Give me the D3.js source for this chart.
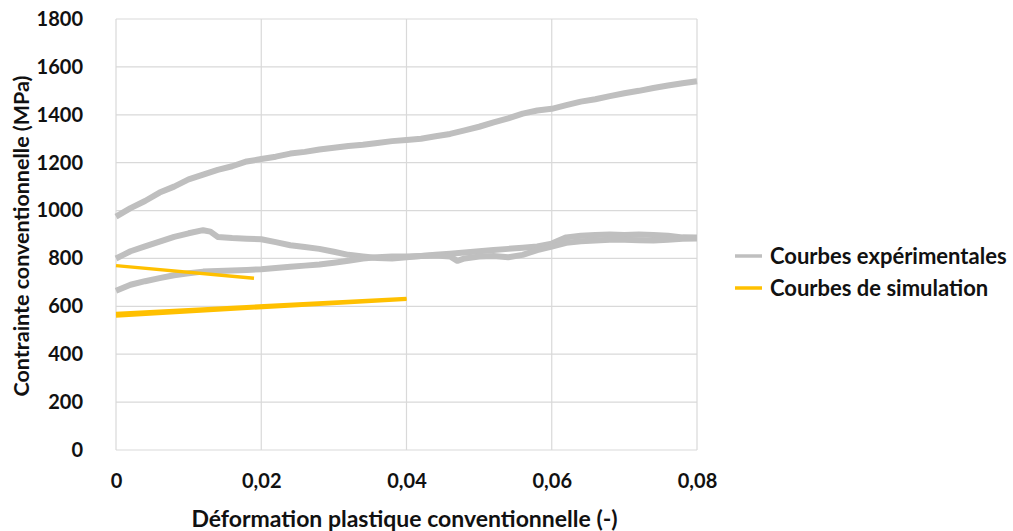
<!DOCTYPE html>
<html>
<head>
<meta charset="utf-8">
<script src="https://cdn.jsdelivr.net/npm/d3@7"></script>
<style>
  body { margin: 0; background: #fff; }
  text { font-family: Lato, "Open Sans", sans-serif; font-weight: 700; fill: #111; }
</style>
</head>
<body>
<div id="chart"></div>
<script>
// tick labels
var xTicks = [0, 0.02, 0.04, 0.06, 0.08];
var yTicks = [0, 200, 400, 600, 800, 1000, 1200, 1400, 1600, 1800];

// experimental curves [strain, stress]
var exp1 = [[0,975],[0.002,1010],[0.004,1040],[0.006,1075],[0.008,1100],[0.010,1130],[0.012,1150],[0.014,1170],
  [0.016,1185],[0.018,1205],[0.020,1215],[0.022,1225],[0.024,1238],[0.026,1245],[0.028,1255],[0.030,1262],
  [0.032,1270],[0.034,1275],[0.036,1282],[0.038,1290],[0.040,1295],[0.042,1300],[0.044,1310],[0.046,1320],
  [0.048,1335],[0.050,1350],[0.052,1368],[0.054,1385],[0.056,1405],[0.058,1418],[0.060,1425],[0.062,1440],
  [0.064,1455],[0.066,1465],[0.068,1478],[0.070,1490],[0.072,1500],[0.074,1512],[0.076,1522],[0.078,1532],[0.080,1540]];
var exp2 = [[0,800],[0.001,815],[0.002,830],[0.004,850],[0.006,870],[0.008,890],[0.010,905],[0.012,918],
  [0.013,912],[0.014,890],[0.016,885],[0.018,882],[0.020,880],[0.022,868],[0.024,855],[0.026,848],[0.028,840],
  [0.030,828],[0.032,815],[0.034,808],[0.036,802],[0.038,800],[0.040,805],[0.042,810],[0.044,815],[0.046,820],
  [0.048,825],[0.050,830],[0.052,835],[0.054,840],[0.056,845],[0.058,850],[0.060,862],[0.062,888],[0.064,895],
  [0.066,898],[0.068,900],[0.070,898],[0.072,900],[0.074,898],[0.076,895],[0.078,888],[0.080,887]];
var exp3 = [[0,665],[0.002,690],[0.004,705],[0.006,718],[0.008,730],[0.010,738],[0.012,745],[0.014,748],
  [0.016,750],[0.018,752],[0.020,755],[0.022,760],[0.024,765],[0.026,770],[0.028,775],[0.030,782],[0.032,790],
  [0.034,800],[0.036,805],[0.038,808],[0.040,808],[0.042,810],[0.044,812],[0.046,808],[0.047,790],[0.048,800],
  [0.050,808],[0.052,810],[0.054,805],[0.056,815],[0.058,835],[0.060,850],[0.062,865],[0.064,872],[0.066,875],
  [0.068,878],[0.070,878],[0.072,876],[0.074,875],[0.076,878],[0.078,882],[0.080,883]];

// simulation curves
var sim1 = [[0,770],[0.019,717]];
var sim2 = [[0,570],[0.04,633]];
var sim3 = [[0,560],[0.04,630]];

var seriesNames = ["Courbes expérimentales", "Courbes de simulation"];
var grey = "#bfbfbf", gold = "#ffc000";

var W = 1013, H = 531;
var margin = {top: 19, left: 116, right: 316, bottom: 81};

var svg = d3.select("#chart").append("svg")
    .attr("width", W).attr("height", H);

var x = d3.scaleLinear().domain([0, 0.08]).range([margin.left, W - margin.right]);
var y = d3.scaleLinear().domain([0, 1800]).range([H - margin.bottom, margin.top]);

// grid
svg.append("g").selectAll("line.h").data(yTicks).enter().append("line")
    .attr("x1", x(0)).attr("x2", x(0.08))
    .attr("y1", function(d){ return y(d); }).attr("y2", function(d){ return y(d); })
    .attr("stroke", "#d9d9d9").attr("stroke-width", 1.2);
svg.append("g").selectAll("line.v").data(xTicks).enter().append("line")
    .attr("y1", y(0)).attr("y2", y(1800))
    .attr("x1", function(d){ return x(d); }).attr("x2", function(d){ return x(d); })
    .attr("stroke", "#d9d9d9").attr("stroke-width", 1.2);

// axes
var xAxis = d3.axisBottom(x).tickValues(xTicks).tickSize(0).tickPadding(24)
    .tickFormat(function(d){ return d === 0 ? "0" : d3.format(".2f")(d).replace(".", ","); });
var gx = svg.append("g").attr("transform", "translate(0," + y(0) + ")").call(xAxis);
gx.select(".domain").remove();
gx.selectAll("text").style("font-size", "20px");

var yAxis = d3.axisLeft(y).tickValues(yTicks).tickSize(0).tickPadding(33)
    .tickFormat(d3.format("d"));
var gy = svg.append("g").attr("transform", "translate(" + x(0) + ",0)").call(yAxis);
gy.select(".domain").remove();
gy.selectAll("text").style("font-size", "20px");

// lines
var line = d3.line().x(function(d){ return x(d[0]); }).y(function(d){ return y(d[1]); });

[exp1, exp2, exp3].forEach(function(s){
  svg.append("path").datum(s).attr("d", line)
    .attr("fill", "none").attr("stroke", grey).attr("stroke-width", 6)
    .attr("stroke-linejoin", "round");
});
[sim1, sim2, sim3].forEach(function(s){
  svg.append("path").datum(s).attr("d", line)
    .attr("fill", "none").attr("stroke", gold).attr("stroke-width", 3.5);
});

// axis titles
svg.append("text")
    .attr("x", (x(0) + x(0.08)) / 2 - 2).attr("y", 527)
    .attr("text-anchor", "middle").style("font-size", "23px")
    .text("Déformation plastique conventionnelle (-)");
svg.append("text")
    .attr("transform", "translate(29," + 236 + ") rotate(-90)")
    .attr("text-anchor", "middle").style("font-size", "21.5px")
    .text("Contrainte conventionnelle (MPa)");

// legend
var legend = svg.append("g").attr("transform", "translate(735,0)");
var legY = [256, 288];
legend.selectAll("line").data(seriesNames).enter().append("line")
    .attr("x1", 0).attr("x2", 27)
    .attr("y1", function(d, i){ return legY[i]; }).attr("y2", function(d, i){ return legY[i]; })
    .attr("stroke", function(d, i){ return i === 0 ? grey : gold; })
    .attr("stroke-width", 3.5);
legend.selectAll("text").data(seriesNames).enter().append("text")
    .attr("x", 35).attr("y", function(d, i){ return legY[i]; })
    .attr("dy", "0.35em").style("font-size", "22px")
    .text(function(d){ return d; });
</script>
</body>
</html>
